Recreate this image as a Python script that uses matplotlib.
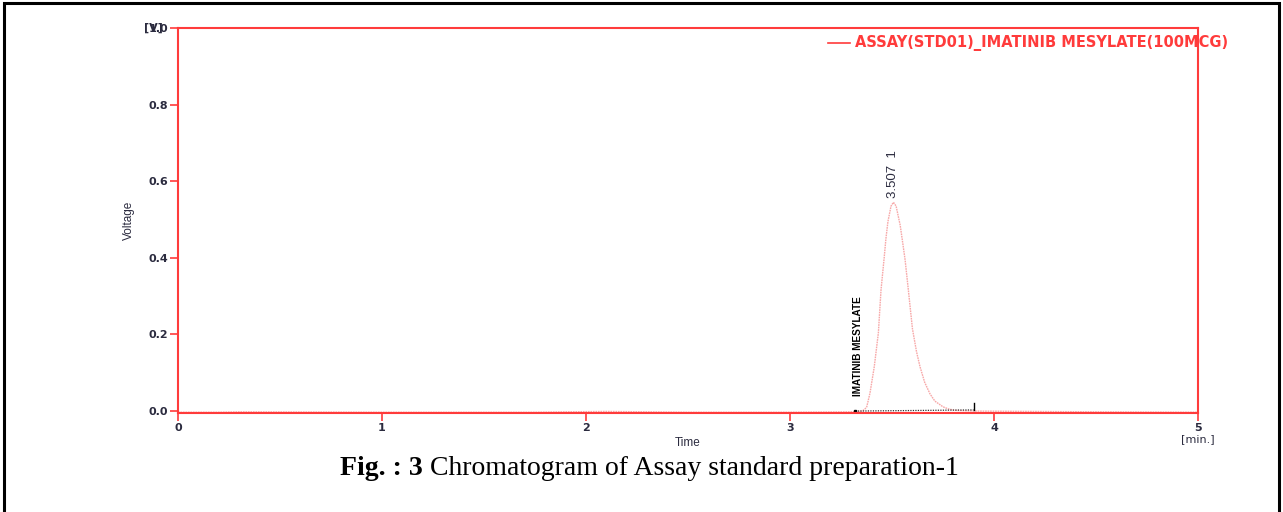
"""
Chromatogram of the assay standard preparation (Imatinib mesylate, 100 mcg).
"""

import matplotlib.pyplot as plt
from matplotlib.patches import Rectangle

# Detector trace read point by point (time in min, signal in V)
tempo = [0.00, 0.20, 0.30, 1.00, 1.75, 1.90, 2.10, 2.50, 3.00, 3.30,
         3.353, 3.365, 3.376, 3.392, 3.413, 3.433, 3.446, 3.462, 3.470, 3.480, 3.495,
         3.507, 3.520, 3.540, 3.550, 3.564, 3.580, 3.600, 3.620, 3.637, 3.660, 3.686,
         3.710, 3.750, 3.780, 3.810, 3.900, 4.50, 5.00]
voltagem = [-0.003, -0.003, -0.002, -0.003, -0.003, -0.002, -0.001, -0.003, -0.003, -0.002,
            0.000, 0.004, 0.011, 0.047, 0.116, 0.204, 0.316, 0.403, 0.450, 0.495, 0.535,
            0.545, 0.535, 0.485, 0.448, 0.395, 0.316, 0.215, 0.155, 0.116, 0.075, 0.045,
            0.026, 0.011, 0.005, 0.002, 0.000, -0.002, -0.003]

# Integration baseline under the peak
base_tempo = [3.32, 3.90]
base_voltagem = [0.000, 0.003]

tempo_retencao = 3.507
altura_pico = 0.545
nome_pico = 'IMATINIB MESYLATE'
nome_serie = 'ASSAY(STD01)_IMATINIB MESYLATE(100MCG)'

y_ticks = [0.0, 0.2, 0.4, 0.6, 0.8, 1.0]
x_ticks = [0, 1, 2, 3, 4, 5]

VERMELHO = '#ff3b3b'
ROSA = '#f7a8a8'
TEXTO = '#2b2b3f'
estreita = ['Liberation Sans Narrow', 'Liberation Sans', 'DejaVu Sans']

fig = plt.figure(figsize=(12.83, 5.12), dpi=100)

# moldura preta em volta da figura
fig.patches.append(Rectangle((0.003, -0.01), 0.994, 1.004, transform=fig.transFigure,
                             fill=False, edgecolor='black', linewidth=2.2))

ax = fig.add_axes([0.1387, 0.1934, 0.7951, 0.7519])
ax.set_xlim(0, 5)
ax.set_ylim(-0.005, 1.0)

ax.plot(tempo, voltagem, color=ROSA, linewidth=1.0, linestyle=(0, (1.2, 0.6)))
ax.plot(base_tempo, base_voltagem, color='#333333', linewidth=0.9, linestyle=(0, (1, 1)))
ax.plot(base_tempo[0], base_voltagem[0], marker='s', markersize=2, color='black')
ax.plot([base_tempo[1], base_tempo[1]], [base_voltagem[1], 0.02], color='black', linewidth=1.0)

for lado in ax.spines.values():
    lado.set_color(VERMELHO)
    lado.set_linewidth(1.5)

ax.set_yticks(y_ticks)
ax.set_yticklabels([f'{v:.1f}' for v in y_ticks], family='DejaVu Sans', fontsize=8,
                   fontweight='bold')
ax.set_xticks(x_ticks)
ax.set_xticklabels([str(v) for v in x_ticks], family='DejaVu Sans', fontsize=8,
                   fontweight='bold')
ax.tick_params(axis='both', colors=VERMELHO, length=6, width=1.2, pad=1)
for lbl in ax.get_xticklabels() + ax.get_yticklabels():
    lbl.set_color(TEXTO)

ax.set_xlabel('Time', family=estreita, fontsize=8.5, color=TEXTO, labelpad=3)
ax.set_ylabel('Voltage', family=estreita, fontsize=8.5, color=TEXTO, labelpad=10)
ax.text(1.0, -0.055, '[min.]', transform=ax.transAxes, ha='center', va='top',
        family='DejaVu Sans', fontsize=8, color=TEXTO)
# unidade do eixo y, sobre o rotulo 1.0
ax.text(-0.0145, 1.0, '[V]', transform=ax.transAxes, ha='right', va='center',
        family='DejaVu Sans', fontsize=8, fontweight='bold', color=TEXTO)

# legenda da serie
ax.plot([0.637, 0.659], [0.961, 0.961], transform=ax.transAxes, color=VERMELHO,
        linewidth=1.2, clip_on=False)
ax.text(0.664, 0.961, nome_serie, transform=ax.transAxes, ha='left', va='center',
        fontsize=10.5, fontweight='bold', color=VERMELHO, family='DejaVu Sans')

# anotacoes do pico
ax.text(tempo_retencao, altura_pico + 0.01, f'{tempo_retencao:.3f}  1', rotation=90,
        ha='center', va='bottom', family=estreita, fontsize=9.5, color=TEXTO)
ax.text(3.334, 0.04, nome_pico, rotation=90, ha='center', va='bottom',
        family=estreita, fontsize=7.2, fontweight='bold', color='black')

# legenda da figura: parte em negrito seguida do texto normal
fig.canvas.draw()
fig_txt = fig.text(0.265, 0.085, 'Fig. : 3', ha='left', va='center',
                   family='Liberation Serif', fontsize=20, fontweight='bold')
caixa = fig_txt.get_window_extent(renderer=fig.canvas.get_renderer())
fig.text((caixa.x1 + 7) / fig.bbox.width, 0.085, 'Chromatogram of Assay standard preparation-1',
         ha='left', va='center', family='Liberation Serif', fontsize=20)

fig.savefig('out.png', dpi=100)
